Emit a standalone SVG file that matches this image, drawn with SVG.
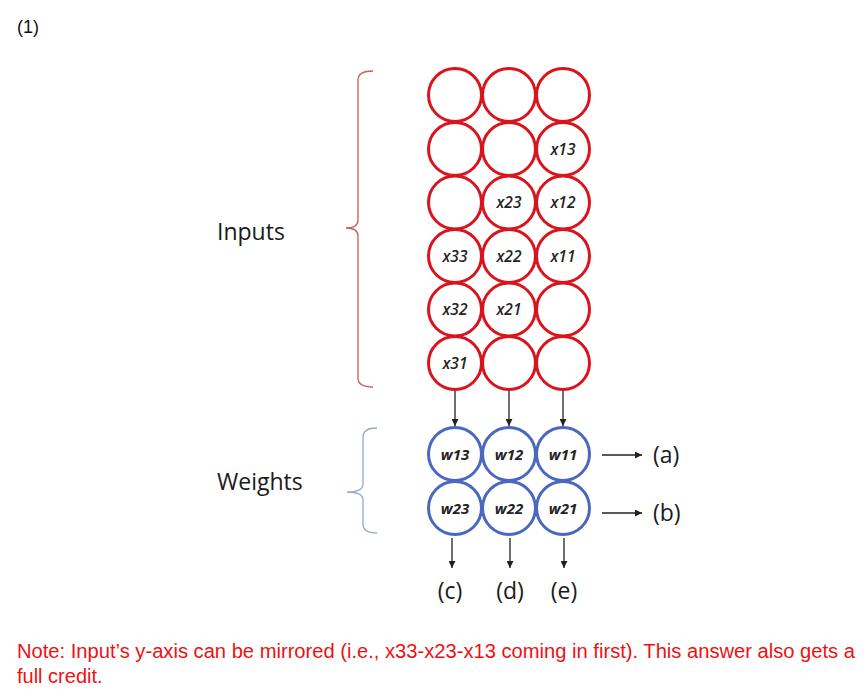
<svg xmlns="http://www.w3.org/2000/svg" width="868" height="696" viewBox="0 0 868 696">
<defs>
<marker id="ah" viewBox="0 0 10 10" refX="10" refY="5" markerWidth="7" markerHeight="7" markerUnits="userSpaceOnUse" orient="auto"><path d="M0,0 L10,5 L0,10 z" fill="#222"/></marker>
</defs>
<style>
.in{fill:#fff;stroke:#d9141c;stroke-width:3}
.wt{fill:#fff;stroke:#4a68c0;stroke-width:3}
.lx{font-family:"Open Sans","Liberation Sans",sans-serif;font-style:italic;font-weight:600;font-size:15.5px;fill:#222;text-anchor:middle}
.lw{font-family:"Open Sans","Liberation Sans",sans-serif;font-style:italic;font-weight:700;font-size:15px;fill:#222;text-anchor:middle}
.big{font-family:"Open Sans","Liberation Sans",sans-serif;font-size:23px;font-weight:500;fill:#1a1a1a}
.note{font-family:"Liberation Sans",Arial,sans-serif;font-size:20px;fill:#ee1111}
.conn{stroke:#222;stroke-width:1.3;fill:none;marker-end:url(#ah)}
</style>
<rect width="868" height="696" fill="#fff"/>
<text x="17" y="33" font-family="Liberation Sans,Arial,sans-serif" font-size="18" fill="#111">(1)</text>
<g id="braces" fill="none" stroke-width="1.3">
<path d="M373,71 Q358,71 358,80 L358,220 Q358,228 346,228 Q358,228 358,236 L358,378 Q358,387 373,387" stroke="#cf5a5a"/>
<path d="M377,428 Q363,428 363,437 L363,484 Q363,492 347,492 Q363,492 363,500 L363,524 Q363,533 377,533" stroke="#93a8d4"/>
</g>
<text id="inputs-label" class="big" x="217" y="240">Inputs</text>
<text id="weights-label" class="big" x="217" y="490">Weights</text>
<g id="inputs">
<g id="i11"><circle class="in" cx="455" cy="95" r="26.5"/></g>
<g id="i12"><circle class="in" cx="509" cy="95" r="26.5"/></g>
<g id="i13"><circle class="in" cx="563" cy="95" r="26.5"/></g>
<g id="i21"><circle class="in" cx="455" cy="149" r="26.5"/></g>
<g id="i22"><circle class="in" cx="509" cy="149" r="26.5"/></g>
<g id="i23"><circle class="in" cx="563" cy="149" r="26.5"/><text class="lx" x="563" y="154.5">x13</text></g>
<g id="i31"><circle class="in" cx="455" cy="202.5" r="26.5"/></g>
<g id="i32"><circle class="in" cx="509" cy="202.5" r="26.5"/><text class="lx" x="509" y="208">x23</text></g>
<g id="i33"><circle class="in" cx="563" cy="202.5" r="26.5"/><text class="lx" x="563" y="208">x12</text></g>
<g id="i41"><circle class="in" cx="455" cy="256" r="26.5"/><text class="lx" x="455" y="261.5">x33</text></g>
<g id="i42"><circle class="in" cx="509" cy="256" r="26.5"/><text class="lx" x="509" y="261.5">x22</text></g>
<g id="i43"><circle class="in" cx="563" cy="256" r="26.5"/><text class="lx" x="563" y="261.5">x11</text></g>
<g id="i51"><circle class="in" cx="455" cy="309.5" r="26.5"/><text class="lx" x="455" y="315">x32</text></g>
<g id="i52"><circle class="in" cx="509" cy="309.5" r="26.5"/><text class="lx" x="509" y="315">x21</text></g>
<g id="i53"><circle class="in" cx="563" cy="309.5" r="26.5"/></g>
<g id="i61"><circle class="in" cx="455" cy="363" r="26.5"/><text class="lx" x="455" y="368.5">x31</text></g>
<g id="i62"><circle class="in" cx="509" cy="363" r="26.5"/></g>
<g id="i63"><circle class="in" cx="563" cy="363" r="26.5"/></g>
</g>
<g id="weights">
<g id="w13"><circle class="wt" cx="455" cy="454" r="26.5"/><text class="lw" x="455" y="459.5">w13</text></g>
<g id="w12"><circle class="wt" cx="509" cy="454" r="26.5"/><text class="lw" x="509" y="459.5">w12</text></g>
<g id="w11"><circle class="wt" cx="563" cy="454" r="26.5"/><text class="lw" x="563" y="459.5">w11</text></g>
<g id="w23"><circle class="wt" cx="455" cy="508" r="26.5"/><text class="lw" x="455" y="513.5">w23</text></g>
<g id="w22"><circle class="wt" cx="509" cy="508" r="26.5"/><text class="lw" x="509" y="513.5">w22</text></g>
<g id="w21"><circle class="wt" cx="563" cy="508" r="26.5"/><text class="lw" x="563" y="513.5">w21</text></g>
</g>
<g id="connectors">
<line class="conn" x1="455" y1="391" x2="455" y2="426"/>
<line class="conn" x1="509" y1="391" x2="509" y2="426"/>
<line class="conn" x1="563" y1="391" x2="563" y2="426"/>
<line class="conn" x1="602" y1="455" x2="642" y2="455"/>
<line class="conn" x1="602" y1="513" x2="642" y2="513"/>
<line class="conn" x1="452" y1="538" x2="452" y2="568"/>
<line class="conn" x1="510" y1="538" x2="510" y2="568"/>
<line class="conn" x1="564" y1="538" x2="564" y2="568"/>
</g>
<g id="outputs">
<text class="big" x="653" y="463">(a)</text>
<text class="big" x="653" y="521">(b)</text>
<text class="big" x="450" y="599" text-anchor="middle">(c)</text>
<text class="big" x="510" y="599" text-anchor="middle">(d)</text>
<text class="big" x="564" y="599" text-anchor="middle">(e)</text>
</g>
<text class="note" x="17" y="658" textLength="838" lengthAdjust="spacingAndGlyphs">Note: Input’s y-axis can be mirrored (i.e., x33-x23-x13 coming in first). This answer also gets a</text>
<text class="note" x="17" y="683">full credit.</text>
</svg>
